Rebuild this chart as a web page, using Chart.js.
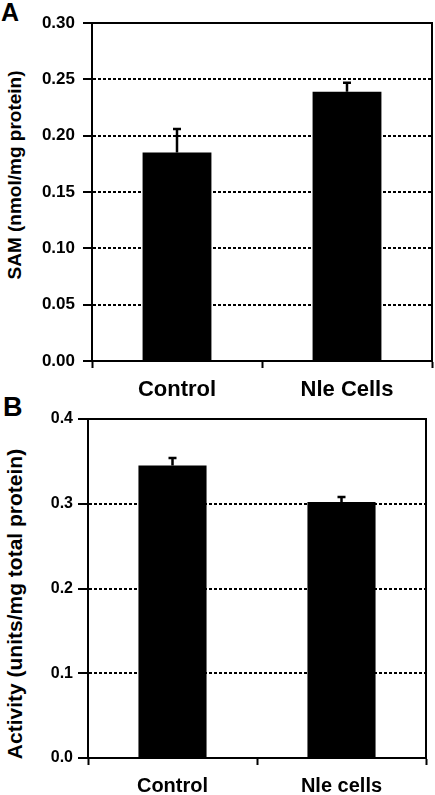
<!DOCTYPE html>
<html>
<head>
<meta charset="utf-8">
<script src="https://cdn.jsdelivr.net/npm/chart.js@4.4.0/dist/chart.umd.min.js"></script>
<style>
  body { margin: 0; background: #fff; width: 435px; height: 795px; position: relative; overflow: hidden;
         font-family: "Liberation Sans", Arial, sans-serif; color: #000; }
  .box { position: absolute; left: 0; width: 435px; }
  #boxA { top: 0; height: 400px; }
  #boxB { top: 397px; height: 398px; }
  .panel { position: absolute; font-weight: bold; line-height: 1; }
  .ytitle { position: absolute; font-weight: bold; white-space: nowrap; line-height: 1;
            transform: translate(-50%, -50%) rotate(-90deg); }
</style>
</head>
<body>
<div class="panel" style="left:1px;top:0;font-size:25px">A</div>
<div class="panel" style="left:3px;top:394px;font-size:27px">B</div>
<div class="ytitle" style="left:14px;top:175px;font-size:19px">SAM (nmol/mg protein)</div>
<div class="ytitle" style="left:14px;top:604px;font-size:21px">Activity (units/mg total protein)</div>
<div class="box" id="boxA"><canvas id="chartA"></canvas></div>
<div class="box" id="boxB"><canvas id="chartB"></canvas></div>
<script>
// panel A - SAM
const categoriesA = ['Control', 'Nle Cells'];
const samValues = [0.185, 0.239];
const samErrors = [0.021, 0.008];
const yTicksA = ['0.00', '0.05', '0.10', '0.15', '0.20', '0.25', '0.30'];

// panel B - activity
const categoriesB = ['Control', 'Nle cells'];
const activityValues = [0.345, 0.302];
const activityErrors = [0.009, 0.006];
const yTicksB = ['0.0', '0.1', '0.2', '0.3', '0.4'];

const family = '"Liberation Sans", Arial, sans-serif';

// stem + small cap on top of each bar
const errorBars = {
  id: 'errorBars',
  afterDatasetsDraw(chart, args, opts) {
    const ctx = chart.ctx;
    const y = chart.scales.y;
    const ds = chart.data.datasets[0];
    ctx.save();
    ctx.strokeStyle = '#000';
    ctx.lineWidth = 2.5;
    chart.getDatasetMeta(0).data.forEach((bar, i) => {
      const top = y.getPixelForValue(ds.data[i] + opts.errors[i]);
      ctx.beginPath();
      ctx.moveTo(bar.x, bar.y);
      ctx.lineTo(bar.x, top);
      ctx.moveTo(bar.x - 4, top);
      ctx.lineTo(bar.x + 4, top);
      ctx.stroke();
    });
    ctx.restore();
  }
};

// top and right sides of the plot box
const frame = {
  id: 'frame',
  afterDraw(chart) {
    const { ctx, chartArea: a } = chart;
    ctx.save();
    ctx.strokeStyle = '#000';
    ctx.lineWidth = 2;
    ctx.beginPath();
    ctx.moveTo(a.left - 1, a.top);
    ctx.lineTo(a.right, a.top);
    ctx.lineTo(a.right, a.bottom);
    ctx.stroke();
    ctx.restore();
  }
};

function makeChart(id, s) {
  const last = s.yTicks.length - 1;
  return new Chart(document.getElementById(id), {
    type: 'bar',
    data: {
      labels: s.labels,
      datasets: [{
        data: s.values,
        backgroundColor: '#000',
        borderWidth: 0,
        categoryPercentage: 1,
        barPercentage: s.barPct,
      }],
    },
    options: {
      responsive: true,
      maintainAspectRatio: false,
      animation: false,
      layout: { padding: { top: s.top, right: s.right, left: 0, bottom: 0 } },
      plugins: {
        legend: { display: false },
        tooltip: { enabled: false },
        errorBars: { errors: s.errors },
      },
      scales: {
        x: {
          afterFit(sc) { sc.height = s.xHeight; },
          ticks: { color: '#000', padding: 9, font: { family, size: s.catSize, weight: 'bold' } },
          grid: { offset: true, drawOnChartArea: false, tickLength: 7, tickColor: '#000', tickWidth: 2 },
          border: { color: '#000', width: 2 },
        },
        y: {
          min: 0,
          max: parseFloat(s.yTicks[last]),
          afterFit(sc) { sc.width = s.yWidth; },
          afterBuildTicks(sc) { sc.ticks = s.yTicks.map(t => ({ value: parseFloat(t) })); },
          ticks: {
            color: '#000',
            padding: s.tickPad,
            font: { family, size: s.tickSize, weight: 'bold' },
            callback: (v, i) => s.yTicks[i],
          },
          grid: {
            color: c => (c.index === 0 || c.index === last) ? 'rgba(0,0,0,0)' : '#000',
            lineWidth: 2,
            tickLength: s.tickLen,
            tickColor: '#000',
            tickWidth: 2,
            tickBorderDash: [],
          },
          border: { color: '#000', width: 2, dash: [3, 2] },
        },
      },
    },
    plugins: [errorBars, frame],
  });
}

makeChart('chartA', {
  labels: categoriesA, values: samValues, errors: samErrors, yTicks: yTicksA,
  top: 23, right: 3, yWidth: 92, xHeight: 39, barPct: 0.405,
  catSize: 22, tickSize: 17, tickLen: 9, tickPad: 8,
});

makeChart('chartB', {
  labels: categoriesB, values: activityValues, errors: activityErrors, yTicks: yTicksB,
  top: 22, right: 9, yWidth: 88, xHeight: 37, barPct: 0.403,
  catSize: 20, tickSize: 16, tickLen: 10, tickPad: 5,
});
</script>
</body>
</html>
